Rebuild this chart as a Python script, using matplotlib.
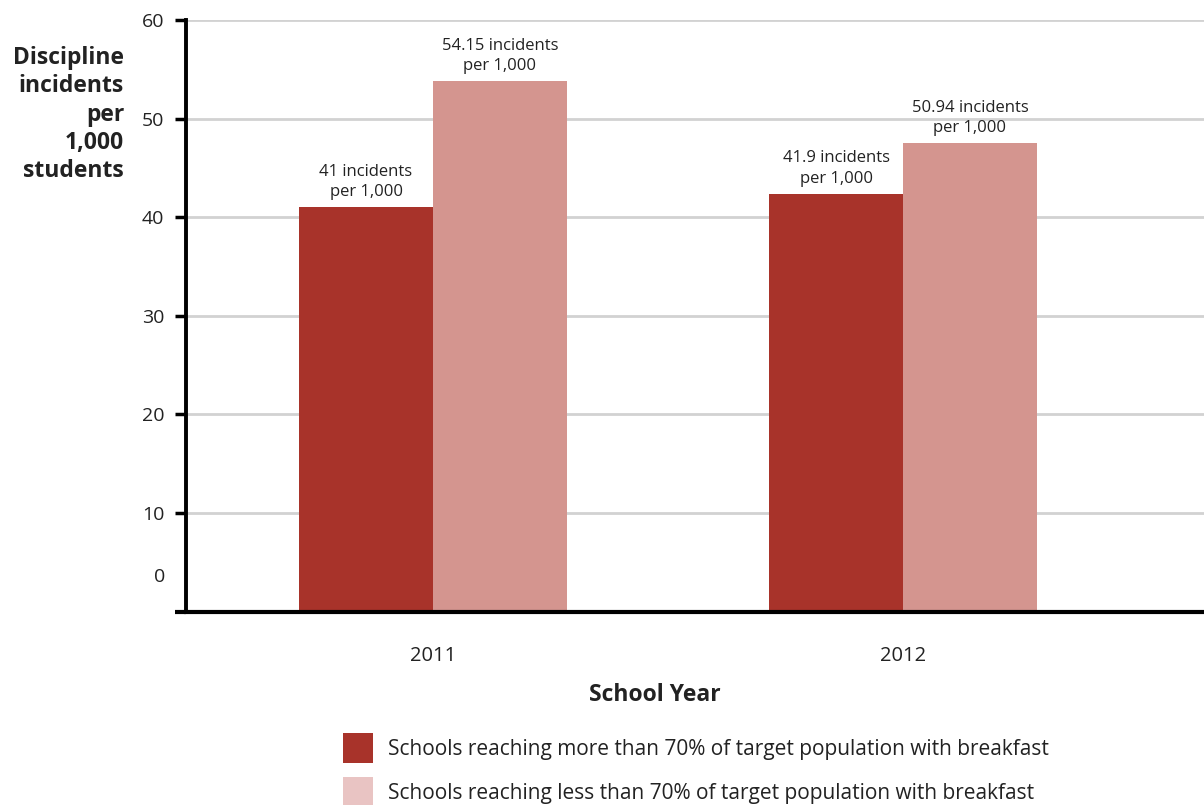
import matplotlib
matplotlib.use("Agg")
import matplotlib.pyplot as plt
from matplotlib.patches import Patch
import numpy as np

plt.rcParams['font.family'] = ['Open Sans', 'DejaVu Sans']

years = ["2011", "2012"]
above70 = [41.0, 42.4]          # bar heights as drawn
below70 = [53.8, 47.5]
above70_labels = ["41 incidents\nper 1,000", "41.9 incidents\nper 1,000"]
below70_labels = ["54.15 incidents\nper 1,000", "50.94 incidents\nper 1,000"]
series_names = ["Schools reaching more than 70% of target population with breakfast",
                "Schools reaching less than 70% of target population with breakfast"]
yticks = [10, 20, 30, 40, 50, 60]

dark = "#a8332a"
light = "#d4958f"
light_legend = "#e9c4c3"
text_col = "#222222"

L, B, T = 186, 611.5, 20
fig = plt.figure(figsize=(12.04, 8.05), dpi=100)
ax = fig.add_axes([L/1204, 1-B/805, 1-L/1204, (B-T)/805])

x = np.arange(len(years))
w = 0.285
b1 = ax.bar(x - w/2, above70, width=w, color=dark, zorder=3)
b2 = ax.bar(x + w/2, below70, width=w, color=light, zorder=3)

for bars, labels in ((b1, above70_labels), (b2, below70_labels)):
    for rect, lab in zip(bars, labels):
        ax.annotate(lab, (rect.get_x() + rect.get_width()/2, rect.get_height()),
                    xytext=(0, 5), textcoords="offset points", ha="center", va="bottom",
                    fontsize=12, color=text_col, linespacing=1.35)

ax.set_ylim(0, 60)
ax.set_xlim((L-433)/470, (1204-433)/470)
ax.set_yticks(yticks)
ax.set_yticklabels([str(t) for t in yticks], fontsize=14, color=text_col)
ax.set_xticks(x)
ax.set_xticklabels(years, fontsize=14.5, color=text_col)
ax.tick_params(axis='y', length=8, width=2.5, color='black', pad=7.5, direction='out')
ax.tick_params(axis='x', length=0, pad=25)
ax.grid(axis='y', color='#d2d2d2', linewidth=2, zorder=0)
ax.set_axisbelow(True)
for s in ["top", "right"]:
    ax.spines[s].set_visible(False)
ax.spines["left"].set_linewidth(2.8)
ax.spines["bottom"].set_linewidth(3)
ax.spines["left"].set_zorder(5)
ax.spines["bottom"].set_zorder(5)
# extend baseline under the tick stubs
ax.plot([-0.0108, 0], [0, 0], transform=ax.transAxes, color='black', lw=3,
        clip_on=False, solid_capstyle='butt', zorder=5)
# unticked zero label
ax.text(-21/1018, 0.0583, "0", transform=ax.transAxes, ha="right", va="center",
        fontsize=14, color=text_col)

fig.text(124/1204, 1-46/805, "Discipline\nincidents\nper\n1,000\nstudents",
         ha="right", va="top", fontsize=16.5, fontweight="bold", color=text_col,
         linespacing=1.24)

fig.text(655/1204, 1-695/805, "School Year", ha="center", va="center",
         fontsize=16.5, fontweight="bold", color=text_col)

handles = [Patch(facecolor=dark, edgecolor='none'), Patch(facecolor=light_legend, edgecolor='none')]
fig.legend(handles, series_names, loc="upper left", bbox_to_anchor=(343/1204, 1-733/805),
           frameon=False, fontsize=15, handlelength=1.44, handleheight=1.84,
           handletextpad=0.7, labelspacing=0.67, borderpad=0, borderaxespad=0,
           labelcolor=text_col)

fig.savefig("out.png", dpi=100)
